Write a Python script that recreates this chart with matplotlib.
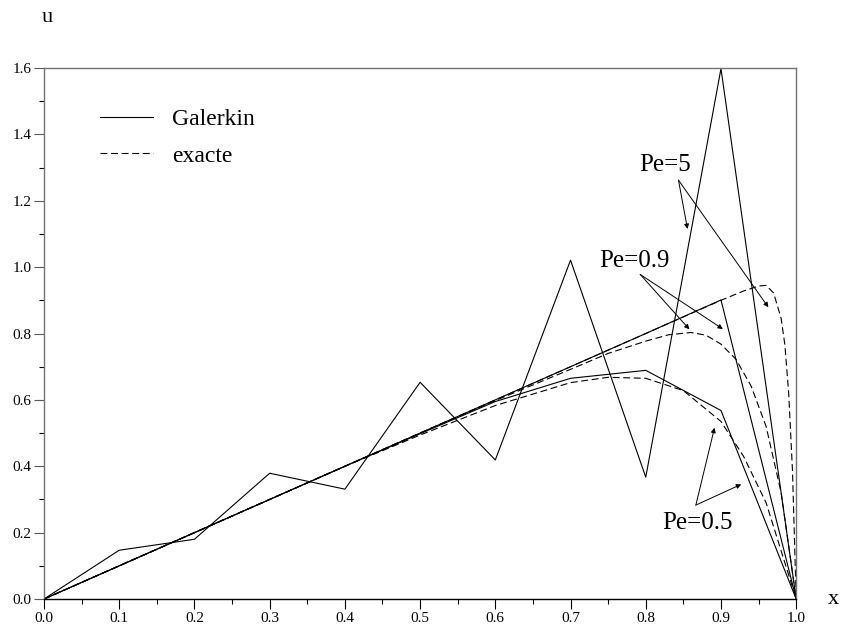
import numpy as np
import matplotlib
matplotlib.use("Agg")
import matplotlib.pyplot as plt

plt.rcParams['font.family'] = ['Liberation Serif', 'DejaVu Serif']
plt.rcParams['lines.scale_dashes'] = False

# Galerkin nodal values (h = 0.1)
x_nodes = [0.0, 0.1, 0.2, 0.3, 0.4, 0.5, 0.6, 0.7, 0.8, 0.9, 1.0]
gal_pe5 = [0.0, 0.147, 0.180, 0.379, 0.331, 0.653, 0.419, 1.021, 0.367, 1.598, 0.0]
gal_pe09 = [0.0, 0.1, 0.2, 0.3, 0.4, 0.5, 0.6, 0.7, 0.8, 0.901, 0.0]
gal_pe05 = [0.0, 0.1, 0.2, 0.3, 0.4, 0.498, 0.595, 0.665, 0.689, 0.568, 0.0]

# exact solutions
ex5_x = [0.0, 0.5, 0.8, 0.9, 0.93, 0.95, 0.96, 0.97, 0.98, 0.985, 0.99, 0.995, 1.0]
ex5_y = [0.0, 0.5, 0.8, 0.9, 0.928, 0.943, 0.945, 0.922, 0.845, 0.765, 0.62, 0.39, 0.0]
ex09_x = [0.0, 0.5, 0.6, 0.7, 0.75, 0.8, 0.83, 0.86, 0.88, 0.9, 0.92, 0.94, 0.96, 0.98, 1.0]
ex09_y = [0.0, 0.5, 0.598, 0.692, 0.74, 0.777, 0.796, 0.803, 0.795, 0.768, 0.722, 0.642, 0.52, 0.32, 0.0]
ex05_x = [0.0, 0.4, 0.5, 0.6, 0.7, 0.75, 0.8, 0.85, 0.9, 0.93, 0.96, 0.98, 1.0]
ex05_y = [0.0, 0.4, 0.494, 0.583, 0.652, 0.668, 0.665, 0.628, 0.535, 0.43, 0.29, 0.145, 0.0]

# annotation labels: text, text position, arrow start, arrow targets
labels = [
    ("Pe=5", (0.7915, 1.29), (0.8435, 1.262), [(0.8555, 1.115), (0.963, 0.879)]),
    ("Pe=0.9", (0.738, 1.0), (0.7926, 0.978), [(0.858, 0.8126), (0.9025, 0.8135)]),
    ("Pe=0.5", (0.822, 0.21), (0.8666, 0.283), [(0.8914, 0.516), (0.9269, 0.3455)]),
]

fig = plt.figure(figsize=(8.66, 6.26), dpi=100)
ax = fig.add_axes([0.0508, 0.0431, 0.8686, 0.8483])

lw = 0.8
dash = (0, (5, 2.6))
ax.plot(x_nodes, gal_pe5, color='black', lw=lw, label='Galerkin')
ax.plot(x_nodes, gal_pe09, color='black', lw=lw)
ax.plot(x_nodes, gal_pe05, color='black', lw=lw)
ax.plot(ex5_x, ex5_y, color='black', lw=lw, linestyle=dash, label='exacte')
ax.plot(ex09_x, ex09_y, color='black', lw=lw, linestyle=dash)
ax.plot(ex05_x, ex05_y, color='black', lw=lw, linestyle=dash)

for txt, tpos, start, targets in labels:
    ax.text(tpos[0], tpos[1], txt, fontsize=18, ha='left', va='baseline')
    for tgt in targets:
        ax.annotate('', xy=tgt, xytext=start,
                    arrowprops=dict(arrowstyle='-|>', color='black', lw=0.7,
                                    mutation_scale=7, shrinkA=0, shrinkB=0))

ax.set_xlim(0, 1)
ax.set_ylim(0, 1.6)
ax.set_xticks(np.arange(0, 1.01, 0.1))
ax.set_xticks(np.arange(0.05, 1.0, 0.1), minor=True)
ax.set_yticks(np.arange(0, 1.61, 0.2))
ax.set_yticks(np.arange(0.1, 1.6, 0.2), minor=True)
ax.set_xticklabels([f"{v:.1f}" for v in np.arange(0, 1.01, 0.1)])
ax.set_yticklabels([f"{v:.1f}" for v in np.arange(0, 1.61, 0.2)])
ax.tick_params(which='major', length=7, width=0.8, labelsize=11, direction='out', pad=2)
ax.tick_params(which='minor', length=3.6, width=0.8, direction='out')
ax.tick_params(axis='y', colors='0.35', labelcolor='black')

for s in ['left', 'top', 'right']:
    ax.spines[s].set_color('0.45')
    ax.spines[s].set_linewidth(1.0)
ax.spines['bottom'].set_color('black')
ax.spines['bottom'].set_linewidth(1.0)

fig.text(42 / 866, 1 - 22 / 626, 'u', fontsize=16, ha='left', va='baseline')
fig.text(828 / 866, 1 - 604 / 626, 'x', fontsize=16, ha='left', va='baseline')

ax.legend(loc='upper left', bbox_to_anchor=(0.046, 0.964), frameon=False,
          fontsize=17, handlelength=2.25, handletextpad=0.8, labelspacing=0.65)

fig.savefig('out.png', dpi=100)
